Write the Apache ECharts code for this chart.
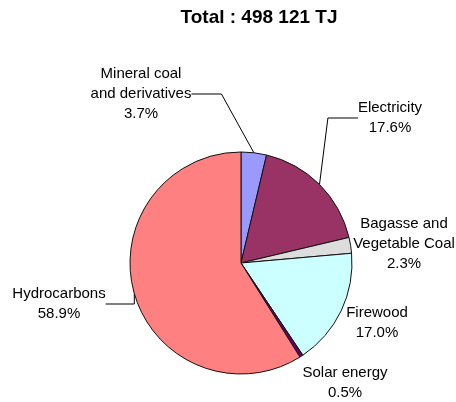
<!DOCTYPE html>
<html>
<head>
<meta charset="utf-8">
<script src="https://cdn.jsdelivr.net/npm/echarts@6/dist/echarts.min.js"></script>
<style>
  html, body { margin: 0; padding: 0; background: #fff; }
  #chart { width: 456px; height: 402px; }
</style>
</head>
<body>
<div id="chart"></div>
<script>
// 能源消费结构（百分比）
const categories = [
    'Mineral coal\nand derivatives',
    'Electricity',
    'Bagasse and\nVegetable Coal',
    'Firewood',
    'Solar energy',
    'Hydrocarbons'
];
const shares = [3.7, 17.6, 2.3, 17.0, 0.5, 58.9];
const colors = ['#9999ff', '#993366', '#dddddd', '#ccffff', '#660066', '#ff8080'];
const withLeader = [true, true, false, false, false, true];

// 标签位置（像素）
const labelPos = [
    [141, 94], [390, 118], [404, 244], [377, 323], [345, 383], [59, 304]
];

const chart = echarts.init(document.getElementById('chart'));

const option = {
    animation: false,
    title: {
        text: 'Total : 498 121 TJ',
        left: 254,
        top: 3,
        textAlign: 'center',
        textStyle: {
            fontFamily: 'Liberation Sans',
            fontSize: 19,
            fontWeight: 'bold',
            color: '#000'
        }
    },
    series: [{
        type: 'pie',
        center: [241, 263],
        radius: 111,
        startAngle: 90,
        clockwise: true,
        data: categories.map((name, i) => ({
            name: name,
            value: shares[i],
            itemStyle: { color: colors[i] },
            labelLine: { show: withLeader[i] }
        })),
        itemStyle: {
            borderColor: '#111',
            borderWidth: 1
        },
        label: {
            show: true,
            formatter: p => p.name + '\n' + p.value.toFixed(1) + '%',
            fontFamily: 'Liberation Sans',
            fontSize: 15,
            lineHeight: 20,
            color: '#000',
            align: 'center',
            overflow: 'none'
        },
        labelLine: {
            lineStyle: { color: '#000', width: 1 }
        },
        labelLayout: params => ({
            x: labelPos[params.dataIndex][0],
            y: labelPos[params.dataIndex][1],
            align: 'center',
            verticalAlign: 'middle'
        })
    }]
};

chart.setOption(option);
</script>
</body>
</html>
